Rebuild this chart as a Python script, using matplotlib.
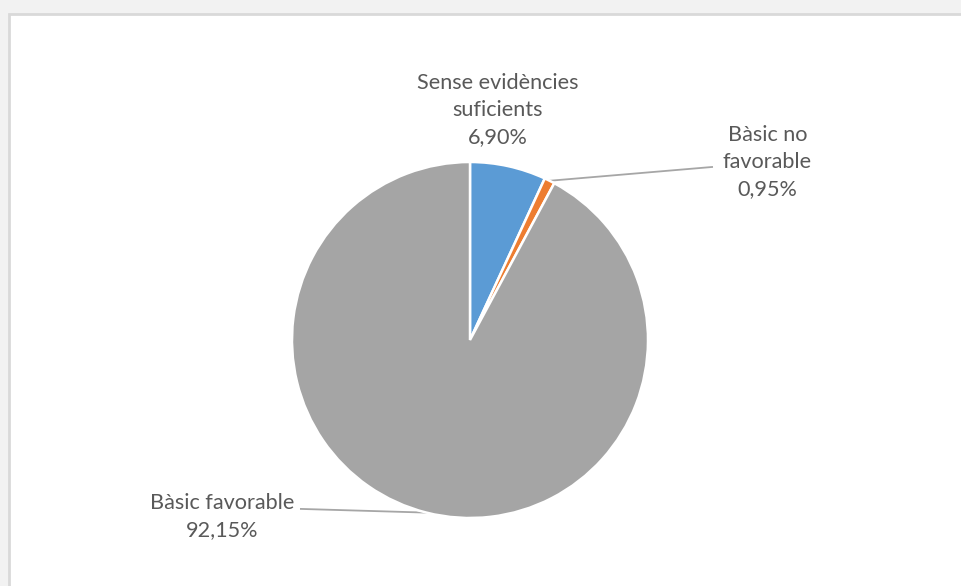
import matplotlib.pyplot as plt
import numpy as np
from matplotlib.patches import Rectangle

# data
labels = ['Sense evidències\nsuficients', 'Bàsic no\nfavorable', 'Bàsic favorable']
values = [6.90, 0.95, 92.15]
colors = ['#5B9BD5', '#ED7D31', '#A5A5A5']

# figure with light gray frame on top / left
fig = plt.figure(figsize=(9.61, 5.86), dpi=100, facecolor='#f2f2f2')
W, H = 961, 586
fig.patches.append(Rectangle((9 / W, -0.05), 1, (H - 14) / H + 0.05, transform=fig.transFigure,
                             facecolor='white', edgecolor='#d9d9d9', linewidth=2, zorder=-5))

# pie axes: centre (470, 340) px, radius 178 px
cx, cy, r = 470, 340, 178
ax = fig.add_axes([(cx - r) / W, (H - cy - r) / H, 2 * r / W, 2 * r / H])
ax.set_zorder(2)
wedges, _ = ax.pie(values, colors=colors, startangle=90, counterclock=False, radius=1,
                   wedgeprops=dict(edgecolor='white', linewidth=1.8))
ax.set_xlim(-1, 1)
ax.set_ylim(-1, 1)
ax.set_aspect('equal')
ax.axis('off')

# label positions (data units, 1 = radius)
label_pos = [(0.157, 1.29), (1.67, 1.0), (-1.39, -0.99)]
line_ends = [None, (1.36, 0.972), (-0.95, -0.949)]

for w, lab, v, pos, end in zip(wedges, labels, values, label_pos, line_ends):
    txt = lab + '\n' + '{:.2f}%'.format(v).replace('.', ',')
    ax.text(pos[0], pos[1], txt, ha='center', va='center', fontsize=15.6,
            family='Lato', color='#595959', linespacing=1.45, clip_on=False)
    if end is not None:
        ang = np.deg2rad((w.theta1 + w.theta2) / 2)
        ax.plot([np.cos(ang), end[0]], [np.sin(ang), end[1]], color='#a6a6a6',
                lw=1.3, clip_on=False, zorder=0)

plt.savefig('out.png', dpi=100, facecolor=fig.get_facecolor())
